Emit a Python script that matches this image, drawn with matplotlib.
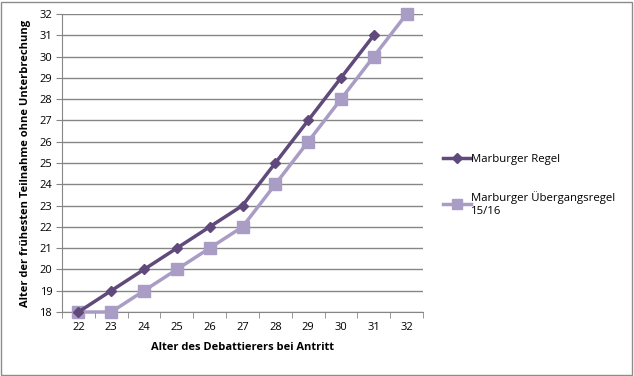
import numpy as np
import matplotlib.pyplot as plt
from matplotlib.patches import Rectangle

# Daten
alter_antritt = [22, 23, 24, 25, 26, 27, 28, 29, 30, 31, 32]
regel = [18, 19, 20, 21, 22, 23, 25, 27, 29, 31]
uebergang = [18, 18, 19, 20, 21, 22, 24, 26, 28, 30, 32]
y_ticks = list(range(18, 33))

plt.rcParams['font.family'] = ['Open Sans', 'DejaVu Sans']

fig = plt.figure(figsize=(6.34, 3.76), dpi=100)
ax = fig.add_axes([62/634, 64/376, 361/634, 298/376])

# Rahmen um das ganze Diagramm
fig.patches.append(Rectangle((0.002, 0.003), 0.995, 0.993, transform=fig.transFigure,
                             fill=False, edgecolor='#8c8c8c', linewidth=1))

dunkel = '#604a7b'
hell = '#a99cc5'

ax.plot(alter_antritt[:len(regel)], regel, color=dunkel, lw=2.5, marker='D',
        markersize=5.5, label='Marburger Regel', zorder=4, clip_on=False)
ax.plot(alter_antritt, uebergang, color=hell, lw=2.5, marker='s',
        markersize=8, label='Marburger Übergangsregel\n15/16', zorder=3, clip_on=False)

ax.set_xlim(21.5, 32.5)
ax.set_ylim(18, 32)
ax.set_yticks(y_ticks)
ax.set_xticks(alter_antritt)
ax.set_xticks(np.arange(21.5, 33, 1), minor=True)
ax.grid(axis='y', color='#868686', lw=1)
ax.set_axisbelow(True)

for s in ['top', 'right']:
    ax.spines[s].set_visible(False)
for s in ['left', 'bottom']:
    ax.spines[s].set_color('#868686')

ax.tick_params(axis='y', which='major', length=4, color='#868686', labelsize=8, pad=3)
ax.tick_params(axis='x', which='major', length=0, labelsize=8, pad=7)
ax.tick_params(axis='x', which='minor', length=4, color='#868686')

ax.set_xlabel('Alter des Debattierers bei Antritt', fontsize=8, fontweight='bold', labelpad=7)
ax.set_ylabel('Alter der frühesten Teilnahme ohne Unterbrechung', fontsize=8,
              fontweight='bold', labelpad=6)

fig.legend(loc='upper left', bbox_to_anchor=(433/634, 1 - 144/376), frameon=False,
           fontsize=8.2, handlelength=2.4, handletextpad=0.05, labelspacing=2.3,
           markerscale=0.9)

fig.savefig('out.png', dpi=100)
